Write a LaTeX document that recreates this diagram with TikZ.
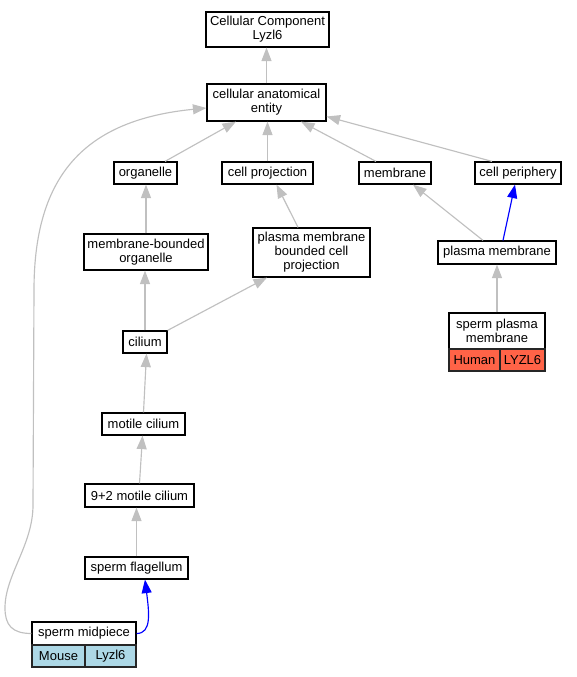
\documentclass[tikz,border=0pt]{standalone}
\usepackage{fontspec}
\setmainfont{Liberation Sans}
\usetikzlibrary{arrows.meta}
\definecolor{edgegray}{HTML}{C0C0C0}
\definecolor{mouseblue}{HTML}{ADD8E6}
\definecolor{humanred}{HTML}{FF6347}
\begin{document}
\begin{tikzpicture}[x=1pt,y=-1pt,
  box/.style={draw=black, line width=1.2pt, fill=white, inner sep=0pt, align=center,
              font=\fontsize{13}{14}\selectfont},
  cell/.style={box, draw=black!85},
  gedge/.style={draw=edgegray, line width=1.15pt, -{Triangle[length=13.5pt,width=10pt]}},
  bedge/.style={draw=blue, line width=1.15pt, -{Triangle[length=13.5pt,width=10pt]}}]
\useasboundingbox (0,0) rectangle (577,677);

% nodes
\node[box, minimum width=123pt, minimum height=35pt] (cc) at (267.5,29.5) {Cellular Component\\Lyzl6};
\node[box, minimum width=119pt, minimum height=37pt] (cae) at (266.5,102.5) {cellular anatomical\\entity};
\node[box, minimum width=63pt, minimum height=22pt] (org) at (145.5,173) {organelle};
\node[box, minimum width=91pt, minimum height=22pt] (cp) at (267.5,173) {cell projection};
\node[box, minimum width=72pt, minimum height=22pt] (mem) at (395,173) {membrane};
\node[box, minimum width=86pt, minimum height=22pt] (cper) at (518,173) {cell periphery};
\node[box, minimum width=124pt, minimum height=36pt] (mbo) at (146,252) {membrane-bounded\\organelle};
\node[box, minimum width=117pt, minimum height=49pt] (pmbcp) at (311.5,252.5) {plasma membrane\\bounded cell\\projection};
\node[box, minimum width=118pt, minimum height=23pt] (pm) at (497,252.5) {plasma membrane};
\node[box, minimum width=44pt, minimum height=22pt] (cil) at (145,342) {cilium};
\node[box, minimum width=96pt, minimum height=36pt] (spm) at (497,331) {sperm plasma\\membrane};
\node[cell, fill=humanred, minimum width=51pt, minimum height=22pt] (human) at (474.5,360) {Human};
\node[cell, fill=humanred, minimum width=45pt, minimum height=22pt] (lyzh) at (522.5,360) {LYZL6};
\node[box, minimum width=83pt, minimum height=22pt] (mc) at (143.5,424) {motile cilium};
\node[box, minimum width=109pt, minimum height=23pt] (n92) at (139.5,495.5) {9+2 motile cilium};
\node[box, minimum width=103pt, minimum height=22pt] (fl) at (136.5,568) {sperm flagellum};
\node[box, minimum width=104pt, minimum height=23pt] (sm) at (84,633.5) {sperm midpiece};
\node[cell, fill=mouseblue, minimum width=53pt, minimum height=22pt] (mouse) at (58.5,656) {Mouse};
\node[cell, fill=mouseblue, minimum width=51pt, minimum height=22pt] (lyzm) at (110.5,656) {Lyzl6};

% edges
\draw[gedge] (cae.north) -- (cae.north |- cc.south);
\draw[gedge] ([xshift=19.5pt]org.north) -- ([xshift=-30.5pt]cae.south);
\draw[gedge] (cp.north) -- (cp.north |- cae.south);
\draw[gedge] ([xshift=-19pt]mem.north) -- ([xshift=34.5pt]cae.south);
\draw[gedge] ([xshift=-26pt]cper.north) -- ([yshift=-14pt]cae.east);
\draw[gedge] (sm.west) .. controls (12,633.5) and (5,625) .. (5,608)
  .. controls (5,575) and (33,545) .. (33,505) -- (34,290)
  .. controls (34,175) and (85,120) .. ([yshift=-5.5pt]cae.west);
\draw[gedge] (mbo.north) -- (mbo.north |- org.south);
\draw[gedge] ([xshift=-13.5pt]pmbcp.north) -- ([xshift=9pt]cp.south);
\draw[gedge] ([xshift=-14pt]pm.north) -- ([xshift=18pt]mem.south);
\draw[bedge] ([xshift=6pt]pm.north) -- ([xshift=-3pt]cper.south);
\draw[gedge] (spm.north) -- (spm.north |- pm.south);
\draw[gedge] (cil.north) -- (cil.north |- mbo.south);
\draw[gedge] (cil.north east) -- ([xshift=-44.5pt]pmbcp.south);
\draw[gedge] (mc.north) -- ([xshift=1.5pt]cil.south);
\draw[gedge] (n92.north) -- ([xshift=-1pt]mc.south);
\draw[gedge] (fl.north) -- (fl.north |- n92.south);
\draw[bedge] (sm.east) .. controls (152,633.5) and (149,612) .. ([xshift=8.5pt]fl.south);
\end{tikzpicture}
\end{document}
